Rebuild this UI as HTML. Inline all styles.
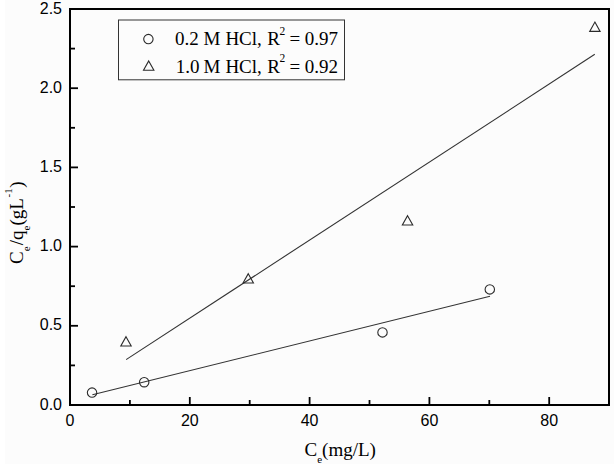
<!DOCTYPE html>
<html><head><meta charset="utf-8"><style>
html,body{margin:0;padding:0;background:#fff;}
svg{display:block;}
.sans{font-family:"Liberation Sans",sans-serif;font-size:16px;fill:#000;}
.serif{font-family:"Liberation Serif",serif;font-size:19px;fill:#000;}
</style></head><body>
<svg width="614" height="474" viewBox="0 0 614 474">
<rect x="0" y="0" width="614" height="474" fill="#fff"/>
<rect x="5" y="0" width="609" height="464" fill="#fcfcfc"/>
<g stroke="#000" stroke-width="2" fill="none">
<rect x="70" y="9" width="539" height="396" />
</g>
<g stroke="#000" stroke-width="1.8" fill="none">
<line x1="70.00" y1="404" x2="70.00" y2="397" />
<line x1="129.90" y1="404" x2="129.90" y2="400" />
<line x1="189.80" y1="404" x2="189.80" y2="397" />
<line x1="249.70" y1="404" x2="249.70" y2="400" />
<line x1="309.60" y1="404" x2="309.60" y2="397" />
<line x1="369.50" y1="404" x2="369.50" y2="400" />
<line x1="429.40" y1="404" x2="429.40" y2="397" />
<line x1="489.30" y1="404" x2="489.30" y2="400" />
<line x1="549.20" y1="404" x2="549.20" y2="397" />
<line x1="609.10" y1="404" x2="609.10" y2="400" />
<line x1="71" y1="405.00" x2="78" y2="405.00" />
<line x1="71" y1="365.40" x2="75" y2="365.40" />
<line x1="71" y1="325.80" x2="78" y2="325.80" />
<line x1="71" y1="286.20" x2="75" y2="286.20" />
<line x1="71" y1="246.60" x2="78" y2="246.60" />
<line x1="71" y1="207.00" x2="75" y2="207.00" />
<line x1="71" y1="167.40" x2="78" y2="167.40" />
<line x1="71" y1="127.80" x2="75" y2="127.80" />
<line x1="71" y1="88.20" x2="78" y2="88.20" />
<line x1="71" y1="48.60" x2="75" y2="48.60" />
<line x1="71" y1="9.00" x2="78" y2="9.00" />
</g>
<g class="sans" text-anchor="end">
<text x="62" y="409.60">0.0</text>
<text x="62" y="330.40">0.5</text>
<text x="62" y="251.20">1.0</text>
<text x="62" y="172.00">1.5</text>
<text x="62" y="92.80">2.0</text>
<text x="62" y="13.60">2.5</text>
</g>
<g class="sans" text-anchor="middle">
<text x="70.00" y="426">0</text>
<text x="189.80" y="426">20</text>
<text x="309.60" y="426">40</text>
<text x="429.40" y="426">60</text>
<text x="549.20" y="426">80</text>
</g>
<g stroke="#333" stroke-width="1.1" fill="none">
<line x1="92.4" y1="394.8" x2="490" y2="296.2" />
<line x1="126.1" y1="359.6" x2="594.8" y2="54.3" />
</g>
<g stroke="#2a2a2a" stroke-width="1.1" fill="none">
<circle cx="92.05" cy="392.6" r="4.7" />
<circle cx="144.2" cy="382.2" r="4.7" />
<circle cx="382.5" cy="332.4" r="4.7" />
<circle cx="489.8" cy="289.4" r="4.7" />
<path d="M126.00 336.70 L131.20 346.00 L120.80 346.00 Z" />
<path d="M248.25 273.70 L253.45 283.00 L243.05 283.00 Z" />
<path d="M407.55 215.70 L412.75 225.00 L402.35 225.00 Z" />
<path d="M594.90 22.10 L600.10 31.40 L589.70 31.40 Z" />
</g>
<rect x="118.5" y="20" width="226" height="59.8" fill="none" stroke="#333" stroke-width="1"/>
<g stroke="#2a2a2a" stroke-width="1.1" fill="none">
<circle cx="148.4" cy="39.1" r="4.7" />
<path d="M148.70 61.00 L153.90 70.30 L143.50 70.30 Z" />
</g>
<g class="serif">
<text x="175.00" y="45.00" font-size="19">0.2</text>
<text x="203.50" y="45.00" font-size="19">M</text>
<text x="225.40" y="45.00" font-size="19">HCl,</text>
<text x="267.30" y="45.00" font-size="19">R</text>
<text x="279.50" y="34.60" font-size="11.5">2</text>
<text x="289.60" y="45.00" font-size="19">=</text>
<text x="304.80" y="45.00" font-size="19">0.97</text>
<text x="175.70" y="72.50" font-size="19">1.0</text>
<text x="203.50" y="72.50" font-size="19">M</text>
<text x="225.40" y="72.50" font-size="19">HCl,</text>
<text x="267.30" y="72.50" font-size="19">R</text>
<text x="279.50" y="62.10" font-size="11.5">2</text>
<text x="289.60" y="72.50" font-size="19">=</text>
<text x="304.80" y="72.50" font-size="19">0.92</text>
<text x="304.5" y="456">C<tspan dy="7" font-size="11">e</tspan><tspan dy="-7">(mg/L)</tspan></text>
<text transform="translate(23.2,264) rotate(-90)">C<tspan dy="7" font-size="11">e</tspan><tspan dy="-7" dx="1.2">/q</tspan><tspan dy="7" font-size="11">e</tspan><tspan dy="-7">(gL</tspan><tspan dy="-11" dx="0.6" font-size="11">-1</tspan><tspan dy="11" dx="0.5">)</tspan></text>
</g>
</svg>
</body></html>
